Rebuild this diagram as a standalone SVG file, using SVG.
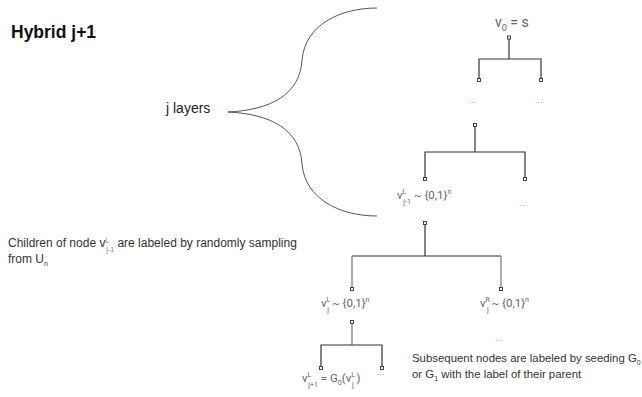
<svg xmlns="http://www.w3.org/2000/svg" width="642" height="397" viewBox="0 0 642 397">
<style>
.ln{stroke:#333;stroke-width:1.2;fill:none}
.vl{stroke:#777;stroke-width:1.2;fill:none}
.nd{fill:#fff;stroke:#333;stroke-width:0.9}
.lab{font-family:Roboto,"Liberation Sans",sans-serif;font-size:11.5px;fill:#666}
.sub{font-size:7px}
.note{font-family:"Liberation Sans",Arial,sans-serif;font-size:12px;fill:#333}
.note2{font-family:"Liberation Sans",Arial,sans-serif;font-size:11.4px;fill:#333}
.dots{font-family:Roboto,"Liberation Sans",sans-serif;font-size:9.5px;fill:#888}
</style>
<rect width="642" height="397" fill="#fff"/>
<text x="11" y="38" font-family="Liberation Sans,Arial,sans-serif" font-weight="bold" font-size="17.5" fill="#111">Hybrid j+1</text>
<text x="166" y="113" font-family="Liberation Sans,Arial,sans-serif" font-size="14" fill="#222">j layers</text>
<path d="M228,112 C270,110 300,95 302,60 C305,25 340,8 377,8" fill="none" stroke="#444" stroke-width="0.9"/>
<path d="M228,112 C270,114 300,129 302,164 C305,199 340,216 377,216" fill="none" stroke="#444" stroke-width="0.9"/>
<g id="connectors">
<path class="ln" d="M509,38 V59 M479,80 V59 H541 V80"/>
<path class="ln" d="M475,125 V152 M425,179 V152 H525 V179"/>
<path class="ln" d="M425,223 V256" stroke-width="2"/>
<path class="ln" d="M352,256 H501"/>
<path class="vl" d="M352,256 V289 M501,256 V289"/>
<path class="vl" d="M352,322 V345"/>
<path class="ln" d="M321,368 V345 H382 V368"/>
</g>
<g id="root"><rect class="nd" x="507.5" y="36" width="3" height="3"/><text x="495" y="27" style="font-family:Roboto,'Liberation Sans',sans-serif;font-size:14px;fill:#666">v<tspan style="font-size:9px" dy="4">0</tspan><tspan dy="-4"> = s</tspan></text></g>
<g id="n1L"><rect class="nd" x="477.5" y="78.5" width="3" height="3"/><text class="dots" x="469" y="103">...</text></g>
<g id="n1R"><rect class="nd" x="539.5" y="78.5" width="3" height="3"/><text class="dots" x="535" y="103">...</text></g>
<g id="n2"><rect class="nd" x="473.5" y="123.5" width="3" height="3"/></g>
<g id="vjm1"><rect class="nd" x="423.5" y="177.5" width="3" height="3"/><rect class="nd" x="423.5" y="221.5" width="3" height="3"/><text class="lab" x="397" y="199">v<tspan class="sub" dy="-5">L</tspan><tspan class="sub" dx="-3" dy="10">j-1</tspan><tspan dy="-5"> ~ {0,1}</tspan><tspan class="sub" dy="-5">n</tspan></text></g>
<g id="n3R"><rect class="nd" x="523.5" y="177.5" width="3" height="3"/><text class="dots" x="519" y="206">...</text></g>
<g id="vjL"><rect class="nd" x="350.5" y="287.5" width="3" height="3"/><rect class="nd" x="350.5" y="320.5" width="3" height="3"/><text class="lab" x="321" y="307">v<tspan class="sub" dy="-5">L</tspan><tspan class="sub" dx="-3" dy="10">j</tspan><tspan dy="-5">   ~ {0,1}</tspan><tspan class="sub" dy="-5">n</tspan></text></g>
<g id="vjR"><rect class="nd" x="499.5" y="287.5" width="3" height="3"/><text class="lab" x="480" y="307">v<tspan class="sub" dy="-5">R</tspan><tspan class="sub" dx="-3" dy="10">j</tspan><tspan dy="-5"> ~ {0,1}</tspan><tspan class="sub" dy="-5">n</tspan></text><text class="dots" x="495" y="341">...</text></g>
<g id="vjp1"><rect class="nd" x="319.5" y="366.5" width="3" height="3"/><text class="lab" x="302" y="382">v<tspan class="sub" dy="-5">L</tspan><tspan class="sub" dx="-3" dy="10">j+1</tspan><tspan dy="-5">  = G</tspan><tspan class="sub" dy="3">0</tspan><tspan dy="-3">(v</tspan><tspan class="sub" dy="-5">L</tspan><tspan class="sub" dx="-3" dy="10">j</tspan><tspan dy="-5"> )</tspan></text></g>
<g id="n4R"><rect class="nd" x="380.5" y="366.5" width="3" height="3"/><text class="dots" x="377" y="375">...</text></g>
<text class="note" x="8" y="247">Children of node v<tspan class="sub" fill="#888" dy="-4">L</tspan><tspan class="sub" fill="#888" dx="-3" dy="9">j-1</tspan><tspan dy="-5">  are labeled by randomly sampling</tspan></text>
<text class="note" x="8" y="263">from U<tspan class="sub" dy="3">n</tspan></text>
<text class="note2" x="412" y="362">Subsequent nodes are labeled by seeding G<tspan class="sub" dy="3">0</tspan></text>
<text class="note2" x="412" y="378">or G<tspan class="sub" dy="3">1</tspan><tspan dy="-3"> with the label of their parent</tspan></text>
</svg>
